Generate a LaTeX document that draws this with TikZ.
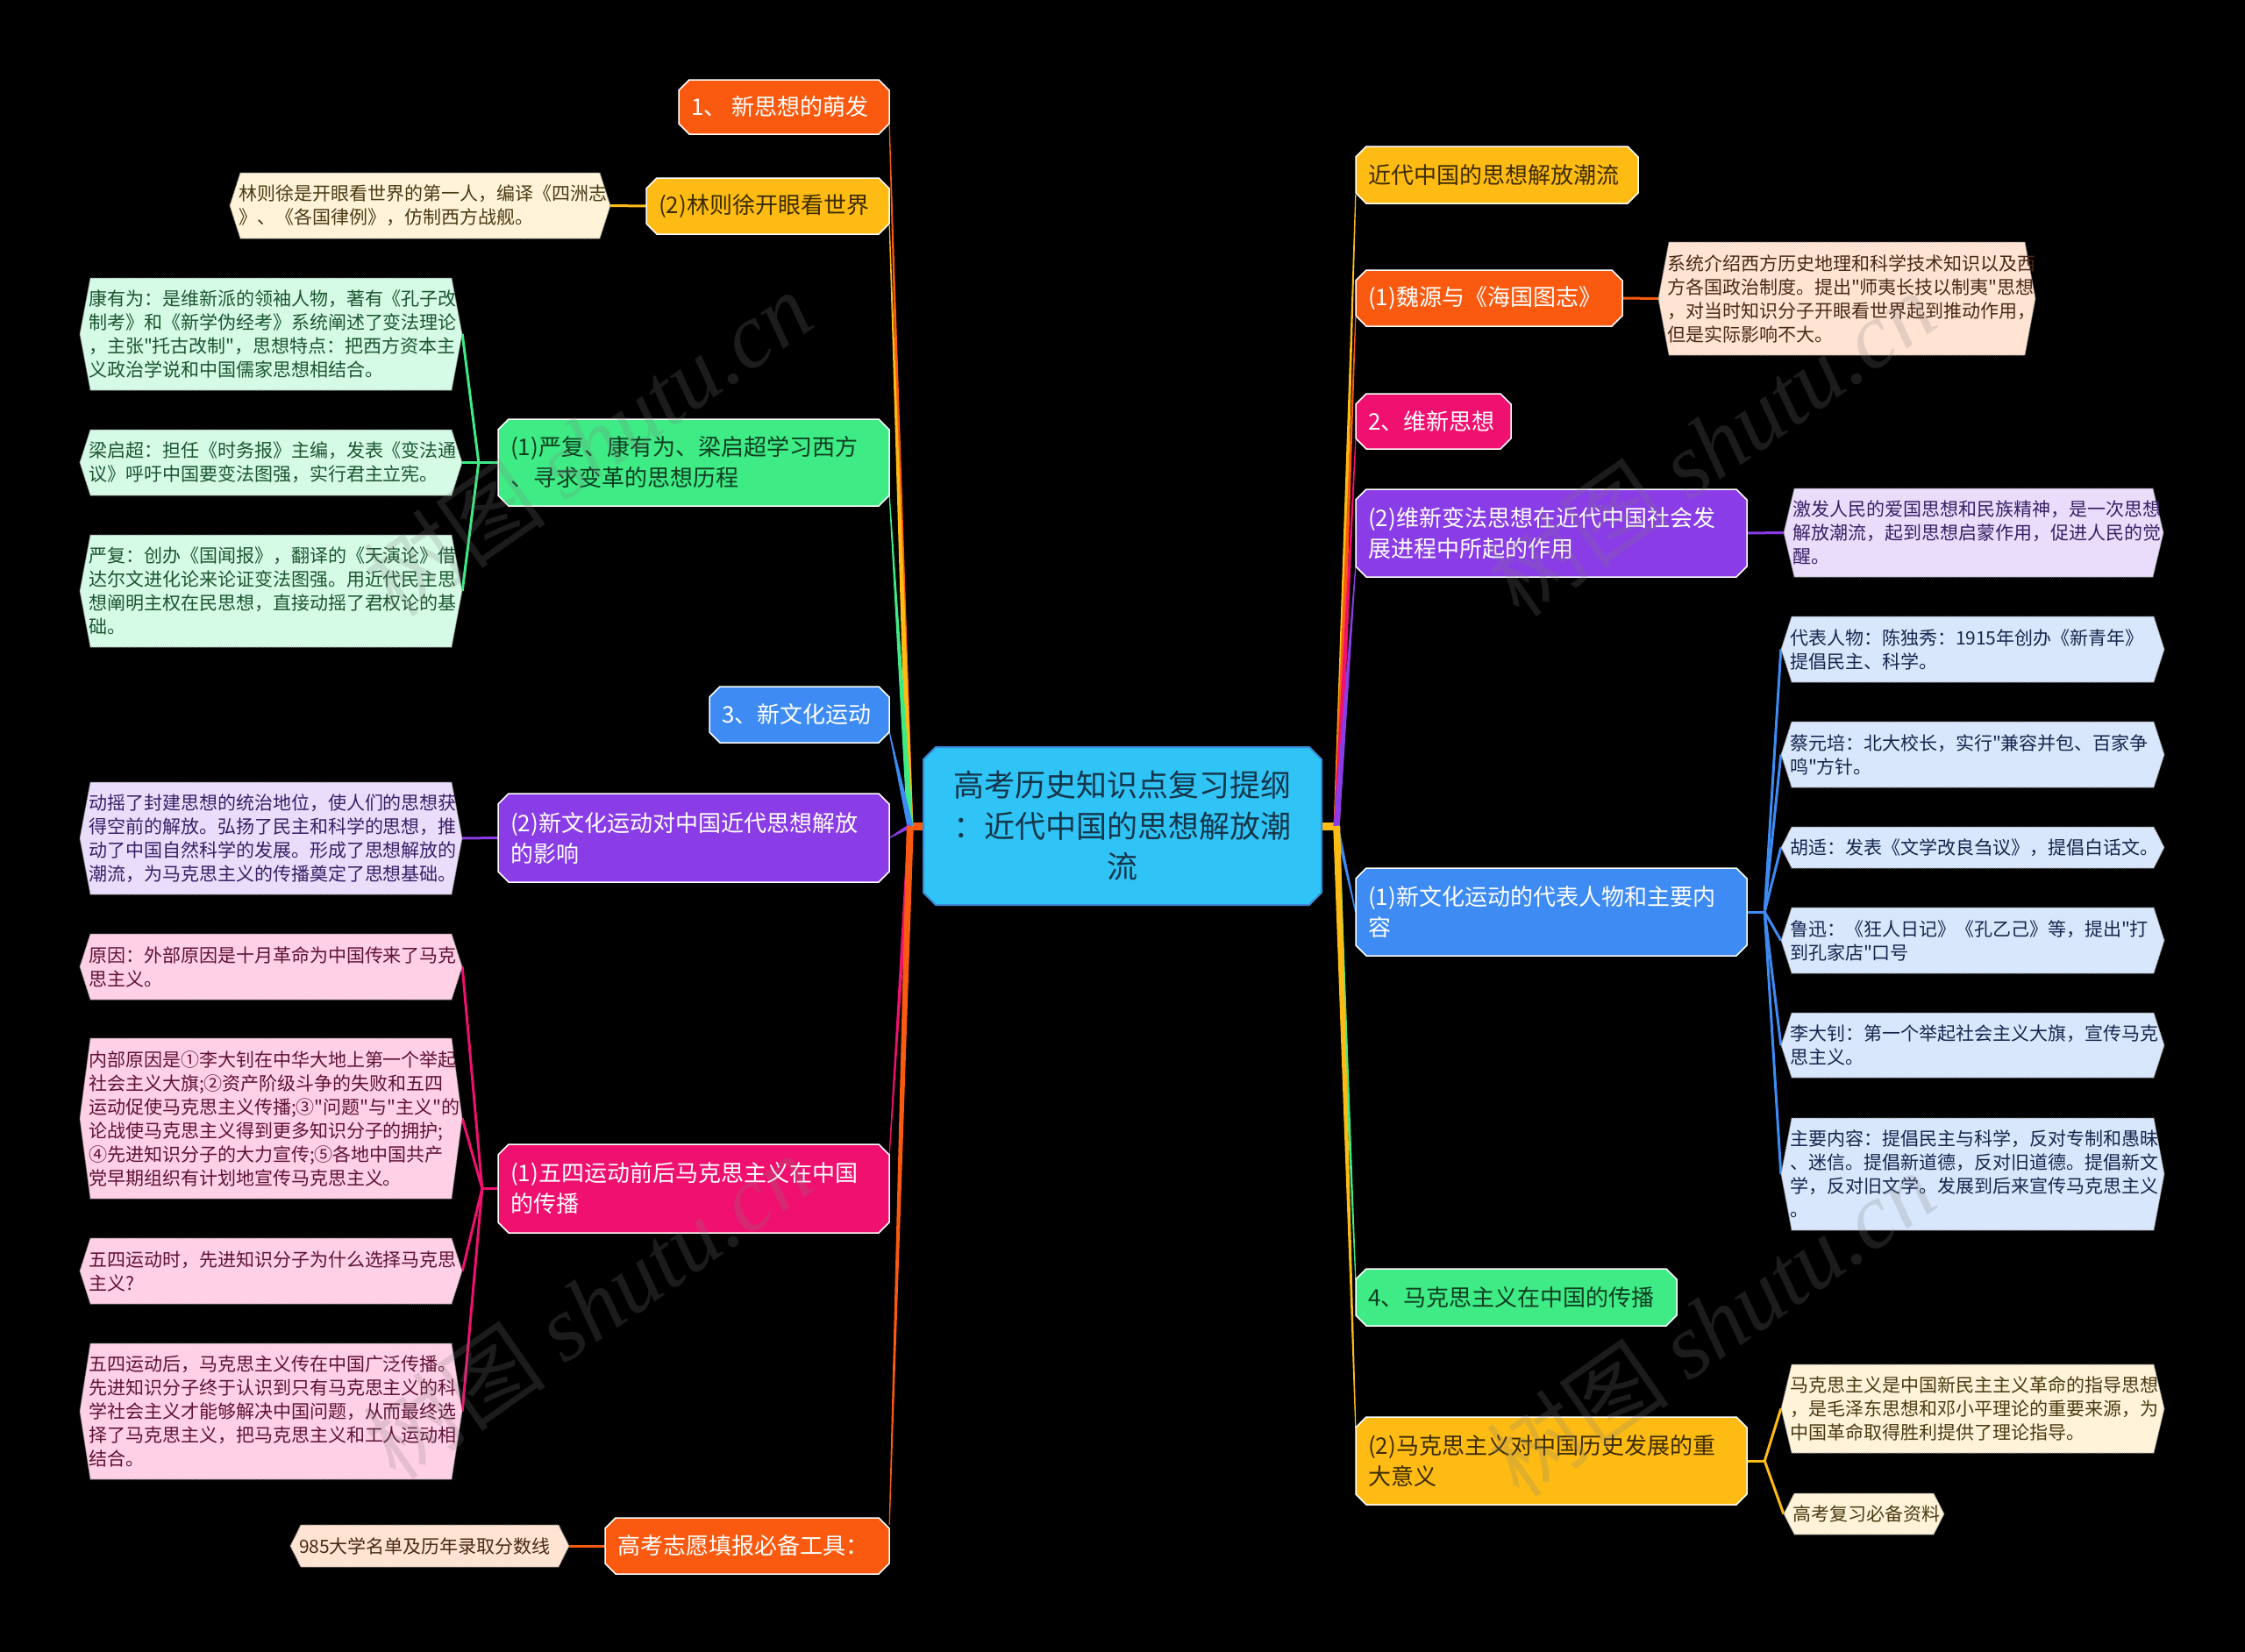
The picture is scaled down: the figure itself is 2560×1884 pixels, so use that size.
\documentclass[tikz,border=0pt]{standalone}
\usepackage{fontspec}
\setmainfont{Noto Sans CJK SC}[Ligatures=TeXOff]
\newfontfamily\wmfont{Liberation Serif}
\usetikzlibrary{calc,fit}
\pgfdeclarelayer{bg}
\pgfdeclarelayer{lines}
\pgfsetlayers{bg,lines,main}

\definecolor{cO}{HTML}{FA5A0F}
\definecolor{cA}{HTML}{FDBB14}
\definecolor{cG}{HTML}{3EEB85}
\definecolor{cB}{HTML}{3D8BF3}
\definecolor{cP}{HTML}{8A3CE6}
\definecolor{cK}{HTML}{F0106F}
\definecolor{cC}{HTML}{2FC4F5}
\definecolor{cCb}{HTML}{3A88D6}
\definecolor{dA}{HTML}{3D2C00}
\definecolor{dG}{HTML}{0F3D22}
\definecolor{dC}{HTML}{14354A}
\definecolor{lA}{HTML}{FFF4D9}
\definecolor{tA}{HTML}{4B3A12}
\definecolor{lG}{HTML}{D5FBE6}
\definecolor{tG}{HTML}{1C5530}
\definecolor{lP}{HTML}{E9DDFB}
\definecolor{tP}{HTML}{3A1F66}
\definecolor{lK}{HTML}{FFD0E6}
\definecolor{tK}{HTML}{5E1235}
\definecolor{lO}{HTML}{FFE3D3}
\definecolor{tO}{HTML}{4A2A15}
\definecolor{lB}{HTML}{D8E7FC}
\definecolor{tB}{HTML}{16264D}

\tikzset{
  mainfont/.style={font=\fontsize{26}{35}\selectfont},
  leaffont/.style={font=\fontsize{21}{27}\selectfont},
  centfont/.style={font=\fontsize{35}{46.5}\selectfont},
  boxfit/.style={inner sep=0pt},
  subline/.style={line width=3pt},
}

% main node: name x1 y1 x2 y2 fill textcolor text
\newcommand\mainnode[8]{%
  \path[fill=#6, draw=white, line width=1.5pt] (#2+12,#3) -- (#4-12,#3) -- (#4,#3+12) -- (#4,#5-12) -- (#4-12,#5) -- (#2+12,#5) -- (#2,#5-12) -- (#2,#3+12) -- cycle;
  \node[fit={(#2,#3) (#4,#5)}, boxfit] (#1) {};
  \node[anchor=west, align=left, inner sep=0pt, text=#7, mainfont] (#1t) at ([xshift=14pt]#1.west) {#8};
}
% leaf node: name x1 y1 x2 y2 fill textcolor text
\newcommand\leafnode[8]{%
  \path[fill=#6, draw=black!45, densely dotted, line width=1pt] (#2+12,#3) -- (#4-12,#3) -- (#4,#3/2+#5/2) -- (#4-12,#5) -- (#2+12,#5) -- (#2,#3/2+#5/2) -- cycle;
  \node[fit={(#2,#3) (#4,#5)}, boxfit] (#1) {};
  \node[anchor=west, align=left, inner sep=0pt, text=#7, leaffont] (#1t) at ([xshift=10pt]#1.west) {#8};
}
% tapered connector: color from to halfwidth
\newcommand\taper[4]{%
  \fill[#1] ($(#2)!#4!90:(#3)$) -- ($(#3)!0.6pt!-90:(#2)$) -- ($(#3)!0.6pt!90:(#2)$) -- ($(#2)!#4!-90:(#3)$) -- cycle;
}

\begin{document}
\begin{tikzpicture}[x=1pt,y=-1pt]
\useasboundingbox (0,0) rectangle (2560,1884);
\begin{pgfonlayer}{bg}
  \fill[black] (0,0) rectangle (2560,1884);
\end{pgfonlayer}

% central node
\path[fill=cC, draw=cCb, line width=2pt] (1053+14,852) -- (1507-14,852) -- (1507,852+14) -- (1507,1032-14) -- (1507-14,1032) -- (1053+14,1032) -- (1053,1032-14) -- (1053,852+14) -- cycle;
\node[fit={(1053,852) (1507,1032)}, boxfit] (C) {};
\node[align=center, inner sep=0pt, text=dC, centfont] (Ct) at (C.center) {高考历史知识点复习提纲\\：近代中国的思想解放潮\\流};

% left main nodes
\mainnode{M1}{774}{91}{1014}{153}{cO}{white}{1、 新思想的萌发}
\mainnode{M2}{737}{203}{1014}{267}{cA}{dA}{(2)林则徐开眼看世界}
\mainnode{M3}{568}{478}{1014}{577}{cG}{dG}{(1)严复、康有为、梁启超学习西方\\、寻求变革的思想历程}
\mainnode{M4}{809}{783}{1014}{847}{cB}{white}{3、新文化运动}
\mainnode{M5}{568}{905}{1014}{1006}{cP}{white}{(2)新文化运动对中国近代思想解放\\的影响}
\mainnode{M6}{568}{1305}{1014}{1406}{cK}{white}{(1)五四运动前后马克思主义在中国\\的传播}
\mainnode{M7}{690}{1731}{1014}{1795}{cO}{white}{高考志愿填报必备工具：}

% right main nodes
\mainnode{R1}{1546}{167}{1868}{232}{cA}{dA}{近代中国的思想解放潮流}
\mainnode{R2}{1546}{308}{1850}{372}{cO}{white}{(1)魏源与《海国图志》}
\mainnode{R3}{1546}{449}{1723}{512}{cK}{white}{2、维新思想}
\mainnode{R4}{1546}{558}{1992}{658}{cP}{white}{(2)维新变法思想在近代中国社会发\\展进程中所起的作用}
\mainnode{R5}{1546}{990}{1992}{1090}{cB}{white}{(1)新文化运动的代表人物和主要内\\容}
\mainnode{R6}{1546}{1447}{1912}{1512}{cG}{dG}{4、马克思主义在中国的传播}
\mainnode{R7}{1546}{1616}{1992}{1716}{cA}{dA}{(2)马克思主义对中国历史发展的重\\大意义}

% left leaves
\leafnode{L2}{262}{197}{696}{272}{lA}{tA}{林则徐是开眼看世界的第一人，编译《四洲志\\》、《各国律例》，仿制西方战舰。}
\leafnode{L3a}{91}{317}{527}{445}{lG}{tG}{康有为：是维新派的领袖人物，著有《孔子改\\制考》和《新学伪经考》系统阐述了变法理论\\，主张"托古改制"，思想特点：把西方资本主\\义政治学说和中国儒家思想相结合。}
\leafnode{L3b}{91}{490}{527}{565}{lG}{tG}{梁启超：担任《时务报》主编，发表《变法通\\议》呼吁中国要变法图强，实行君主立宪。}
\leafnode{L3c}{91}{610}{527}{738}{lG}{tG}{严复：创办《国闻报》，翻译的《天演论》借\\达尔文进化论来论证变法图强。用近代民主思\\想阐明主权在民思想，直接动摇了君权论的基\\础。}
\leafnode{L5}{91}{892}{527}{1020}{lP}{tP}{动摇了封建思想的统治地位，使人们的思想获\\得空前的解放。弘扬了民主和科学的思想，推\\动了中国自然科学的发展。形成了思想解放的\\潮流，为马克思主义的传播奠定了思想基础。}
\leafnode{L6a}{91}{1065}{527}{1140}{lK}{tK}{原因：外部原因是十月革命为中国传来了马克\\思主义。}
\leafnode{L6b}{91}{1184}{527}{1367}{lK}{tK}{内部原因是①李大钊在中华大地上第一个举起\\社会主义大旗;②资产阶级斗争的失败和五四\\运动促使马克思主义传播;③"问题"与"主义"的\\论战使马克思主义得到更多知识分子的拥护;\\④先进知识分子的大力宣传;⑤各地中国共产\\党早期组织有计划地宣传马克思主义。}
\leafnode{L6c}{91}{1412}{527}{1487}{lK}{tK}{五四运动时，先进知识分子为什么选择马克思\\主义?}
\leafnode{L6d}{91}{1532}{527}{1687}{lK}{tK}{五四运动后，马克思主义传在中国广泛传播。\\先进知识分子终于认识到只有马克思主义的科\\学社会主义才能够解决中国问题，从而最终选\\择了马克思主义，把马克思主义和工人运动相\\结合。}
\leafnode{L7}{331}{1739}{649}{1787}{lO}{tO}{985大学名单及历年录取分数线}

% right leaves
\leafnode{RL2}{1891}{276}{2321}{405}{lO}{tO}{系统介绍西方历史地理和科学技术知识以及西\\方各国政治制度。提出"师夷长技以制夷"思想\\，对当时知识分子开眼看世界起到推动作用，\\但是实际影响不大。}
\leafnode{RL4}{2034}{557}{2467}{658}{lP}{tP}{激发人民的爱国思想和民族精神，是一次思想\\解放潮流，起到思想启蒙作用，促进人民的觉\\醒。}
\leafnode{RL5a}{2031}{703}{2468}{778}{lB}{tB}{代表人物：陈独秀：1915年创办《新青年》\\提倡民主、科学。}
\leafnode{RL5b}{2031}{823}{2468}{898}{lB}{tB}{蔡元培：北大校长，实行"兼容并包、百家争\\鸣"方针。}
\leafnode{RL5c}{2031}{943}{2468}{990}{lB}{tB}{胡适：发表《文学改良刍议》，提倡白话文。}
\leafnode{RL5d}{2031}{1035}{2468}{1110}{lB}{tB}{鲁迅：《狂人日记》《孔乙己》等，提出"打\\到孔家店"口号}
\leafnode{RL5e}{2031}{1155}{2468}{1229}{lB}{tB}{李大钊：第一个举起社会主义大旗，宣传马克\\思主义。}
\leafnode{RL5f}{2031}{1275}{2468}{1403}{lB}{tB}{主要内容：提倡民主与科学，反对专制和愚昧\\、迷信。提倡新道德，反对旧道德。提倡新文\\学，反对旧文学。发展到后来宣传马克思主义\\。}
\leafnode{RL7a}{2031}{1556}{2468}{1657}{lA}{tA}{马克思主义是中国新民主主义革命的指导思想\\，是毛泽东思想和邓小平理论的重要来源，为\\中国革命取得胜利提供了理论指导。}
\leafnode{RL7b}{2034}{1703}{2217}{1750}{lA}{tA}{高考复习必备资料}

% connector points
\coordinate (TL) at ([xshift=-15pt]C.west);
\coordinate (TR) at ([xshift=17pt]C.east);
\coordinate (aM1) at ([yshift=10pt]M1.south east);
\coordinate (aM2) at ([yshift=10pt]M2.south east);
\coordinate (aM3) at ([yshift=12pt]M3.south east);
\coordinate (aM4) at ([yshift=12pt]M4.south east);
\coordinate (aM5) at (M5.east);
\coordinate (aM6) at ([yshift=-12pt]M6.north east);
\coordinate (aM7) at ([yshift=-8pt]M7.north east);
\coordinate (aR1) at ([yshift=10pt]R1.south west);
\coordinate (aR2) at ([yshift=10pt]R2.south west);
\coordinate (aR3) at ([yshift=10pt]R3.south west);
\coordinate (aR4) at ([yshift=12pt]R4.south west);
\coordinate (aR5) at (R5.west);
\coordinate (aR6) at ([yshift=-12pt]R6.north west);
\coordinate (aR7) at ([yshift=-12pt]R7.north west);
\coordinate (F3) at ([xshift=-22pt]M3.west);
\coordinate (F6) at ([xshift=-18pt]M6.west);
\coordinate (F5r) at ([xshift=20pt]R5.east);
\coordinate (F7r) at ([xshift=20pt]R7.east);

\begin{pgfonlayer}{lines}
  \draw[cO, line width=9pt] (C.west) -- ([xshift=-4pt]TL);
  \draw[cA, line width=9pt] (C.east) -- ([xshift=4pt]TR);
  \taper{cO}{TL}{aM1}{3.5pt}
  \taper{cA}{TL}{aM2}{3.5pt}
  \taper{cG}{TL}{aM3}{3.5pt}
  \taper{cB}{TL}{aM4}{3.5pt}
  \taper{cP}{TL}{aM5}{2.5pt}
  \taper{cK}{TL}{aM6}{3pt}
  \taper{cO}{TL}{aM7}{4pt}
  \taper{cA}{TR}{aR1}{3.5pt}
  \taper{cO}{TR}{aR2}{3.5pt}
  \taper{cK}{TR}{aR3}{3.5pt}
  \taper{cP}{TR}{aR4}{3.5pt}
  \taper{cB}{TR}{aR5}{2.5pt}
  \taper{cG}{TR}{aR6}{3.5pt}
  \taper{cA}{TR}{aR7}{4pt}
  % leaf connectors left
  \draw[cA, subline] (M2.west) -- (L2.east);
  \draw[cG, subline] (M3.west) -- (F3);
  \draw[cG, subline] (F3) -- (L3a.east);
  \draw[cG, subline] (F3) -- (L3b.east);
  \draw[cG, subline] (F3) -- (L3c.east);
  \draw[cP, subline] (M5.west) -- (L5.east);
  \draw[cK, subline] (M6.west) -- (F6);
  \draw[cK, subline] (F6) -- (L6a.east);
  \draw[cK, subline] (F6) -- (L6b.east);
  \draw[cK, subline] (F6) -- (L6c.east);
  \draw[cK, subline] (F6) -- (L6d.east);
  \draw[cO, subline] (M7.west) -- (L7.east);
  % leaf connectors right
  \draw[cO, subline] (R2.east) -- (RL2.west);
  \draw[cP, subline] (R4.east) -- (RL4.west);
  \draw[cB, subline] (R5.east) -- (F5r);
  \draw[cB, subline] (F5r) -- (RL5a.west);
  \draw[cB, subline] (F5r) -- (RL5b.west);
  \draw[cB, subline] (F5r) -- (RL5c.west);
  \draw[cB, subline] (F5r) -- (RL5d.west);
  \draw[cB, subline] (F5r) -- (RL5e.west);
  \draw[cB, subline] (F5r) -- (RL5f.west);
  \draw[cA, subline] (R7.east) -- (F7r);
  \draw[cA, subline] (F7r) -- (RL7a.west);
  \draw[cA, subline] (F7r) -- (RL7b.west);
\end{pgfonlayer}

% watermarks
\tikzset{wm/.style={rotate=35, text=gray, text opacity=0.22, inner sep=0pt, font=\fontsize{105}{110}\selectfont}}
\node[wm] (wm1) at (670,506) {树图 {\wmfont\itshape shutu.cn}};
\node[wm] (wm2) at (670,1490) {树图 {\wmfont\itshape shutu.cn}};
\node[wm] (wm3) at (1951,506) {树图 {\wmfont\itshape shutu.cn}};
\node[wm] (wm4) at (1951,1510) {树图 {\wmfont\itshape shutu.cn}};
\end{tikzpicture}
\end{document}
